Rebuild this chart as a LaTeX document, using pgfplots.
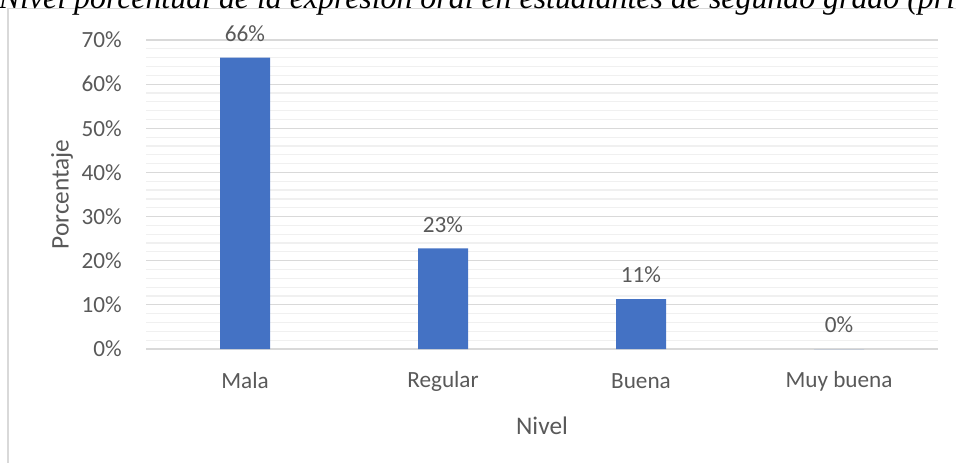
\documentclass[border=0pt]{standalone}
\usepackage{pgfplots}
\pgfplotsset{compat=1.18}
\usepackage{fontspec}
\setmainfont{Carlito}
\newfontfamily\titlefont{Liberation Serif}
\definecolor{barblue}{HTML}{4472C4}
\definecolor{txt}{HTML}{595959}
\definecolor{majgrid}{HTML}{D9D9D9}
\definecolor{mingrid}{HTML}{F0F0F0}
\begin{document}
\begin{tikzpicture}
\useasboundingbox (0,0) rectangle (717pt,346.5pt);
\clip (0,0) rectangle (717pt,346.5pt);
\draw[majgrid, line width=0.9pt] (6pt,-2pt) -- (6pt,340.2pt) -- (720pt,340.2pt);
\node[anchor=base west, inner sep=0pt, font=\titlefont\itshape\fontsize{23.9}{28}\selectfont] at (-1pt,340.3pt) {Nivel porcentual de la expresión oral en estudiantes de segundo grado (primer ciclo)};
\begin{axis}[
 at={(109.5pt,84.75pt)}, anchor=south west,
 scale only axis, width=594pt, height=231.75pt,
 /pgf/number format/assume math mode=true,
 ybar, bar width=37.5pt,
 xmin=-0.5, xmax=3.5, ymin=0, ymax=70,
 xtick=data, xticklabels={Mala,Regular,Buena,Muy buena},
 ytick={0,10,...,70}, yticklabel={\pgfmathprintnumber{\tick}\%},
 minor y tick num=4,
 ymajorgrids, yminorgrids,
 major grid style={majgrid, line width=0.9pt},
 minor grid style={mingrid, line width=0.9pt},
 axis line style={draw=none},
 major tick length=0pt, minor tick length=0pt,
 tick label style={font=\fontsize{17.4}{20}\selectfont, text=txt},
 xticklabel style={anchor=center, yshift=-24pt},
 yticklabel style={anchor=east, inner sep=0pt, xshift=-18pt},
 xlabel={Nivel}, ylabel={Porcentaje},
 label style={font=\fontsize{19}{23}\selectfont, text=txt},
 xlabel style={at={(axis description cs:0.5,-0.247)}, anchor=center},
 ylabel style={at={(axis description cs:-0.106,0.5)}, anchor=center},
 nodes near coords={\pgfmathprintnumber[fixed,precision=0]{\pgfplotspointmeta}\%},
 every node near coord/.append style={anchor=center, yshift=18pt, font=\fontsize{17.4}{20}\selectfont, text=txt},
]
\addplot[fill=barblue, draw=none] coordinates {(0,66) (1,22.8) (2,11.3) (3,0)};
\end{axis}
\end{tikzpicture}
\end{document}
